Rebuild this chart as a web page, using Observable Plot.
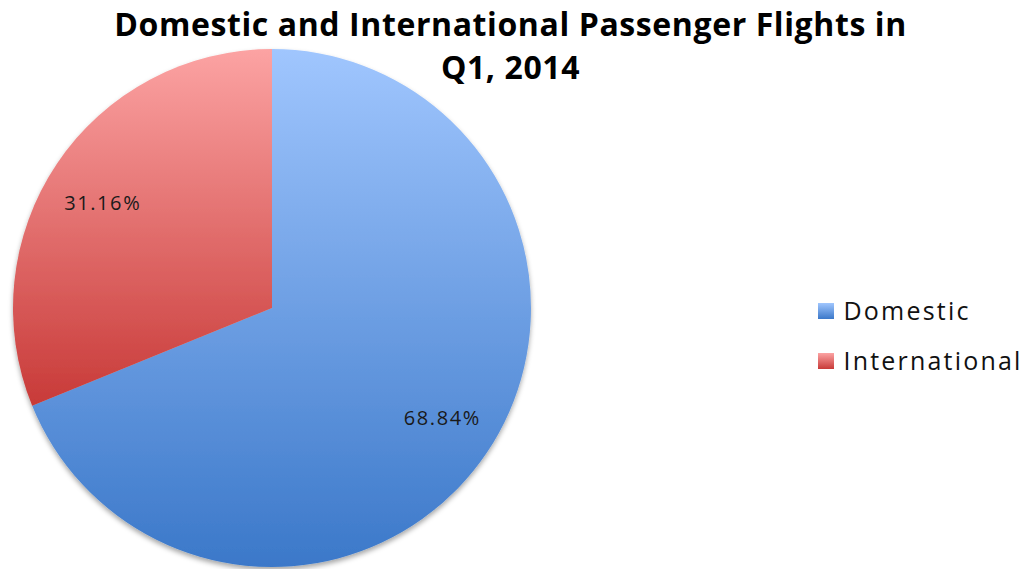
<!DOCTYPE html>
<html>
<head>
<meta charset="utf-8">
<script src="https://cdn.jsdelivr.net/npm/d3@7"></script>
<script src="https://cdn.jsdelivr.net/npm/@observablehq/plot@0.6"></script>
<style>
  html, body { margin: 0; padding: 0; background: #fff; }
  #chart { width: 1029px; height: 569px; }
</style>
</head>
<body>
<div id="chart"></div>
<script>
// ---- data ----
const categories = ["Domestic", "International"];
const shares = [68.84, 31.16];
const labels = ["68.84%", "31.16%"];
const topColors = ["#a0c6fe", "#fca3a3"];
const bottomColors = ["#3b78c9", "#c83a38"];
const titleLines = ["Domestic and International Passenger Flights in", "Q1, 2014"];

// ---- layout ----
const W = 1029, H = 569;
const cx = 272, cy = 308, R = 259;

const rows = categories.map((c, i) => ({category: c, share: shares[i], label: labels[i], i}));
const arcs = d3.pie().value(d => d.share).sort(null)(rows);
const labelPts = arcs.map(a => {
  const m = (a.startAngle + a.endAngle) / 2;
  return {label: a.data.label, x: cx + Math.sin(m) * R * 0.79, y: cy - Math.cos(m) * R * 0.79 + (a.data.i ? 9 : -4)};
});
const titleRows = titleLines.map((t, i) => ({t, x: 510, y: 25 + i * 43}));
const legendRows = categories.map((c, i) => ({c, i, x: 818, y: 311 + i * 50}));

function pieMark(index, scales, values, dimensions, context) {
  const svg = d3.create("svg:g");
  const defs = svg.append("defs");
  const f = defs.append("filter").attr("id", "shadow").attr("x", "-10%").attr("y", "-10%").attr("width", "120%").attr("height", "120%");
  f.append("feDropShadow").attr("dx", 0).attr("dy", 3).attr("stdDeviation", 2.5).attr("flood-color", "#000").attr("flood-opacity", 0.35);
  categories.forEach((c, i) => {
    const g = defs.append("linearGradient").attr("id", "grad" + i).attr("x1", 0).attr("y1", 0).attr("x2", 0).attr("y2", 1);
    g.append("stop").attr("offset", "0%").attr("stop-color", topColors[i]);
    g.append("stop").attr("offset", "100%").attr("stop-color", bottomColors[i]);
  });
  const px = scales.x(cx), py = scales.y(cy);
  const rr = scales.x(cx + R) - px;
  const arc = d3.arc().innerRadius(0).outerRadius(rr);
  const gp = svg.append("g").attr("transform", `translate(${px},${py})`).attr("filter", "url(#shadow)");
  gp.selectAll("path").data(arcs).join("path")
    .attr("d", arc)
    .attr("fill", d => `url(#grad${d.data.i})`);
  return svg.node();
}

function legendSwatches(index, scales) {
  const g = d3.create("svg:g");
  legendRows.forEach(d => {
    g.append("rect")
      .attr("x", scales.x(d.x)).attr("y", scales.y(d.y) - 8)
      .attr("width", 16).attr("height", 16)
      .attr("fill", `url(#grad${d.i})`);
  });
  return g.node();
}

const plot = Plot.plot({
  width: W, height: H,
  margin: 0,
  x: {domain: [0, W], range: [0, W], axis: null},
  y: {domain: [0, H], range: [0, H], axis: null},
  style: {fontFamily: "'Open Sans', sans-serif", background: "#fff"},
  marks: [
    pieMark,
    Plot.text(labelPts, {x: "x", y: "y", text: "label", fontSize: 20, fill: "#1a1a1a"}),
    legendSwatches,
    Plot.text(legendRows, {x: d => d.x + 25, y: "y", text: "c", textAnchor: "start", fontSize: 25, fill: "#111"}),
    Plot.text(titleRows, {x: "x", y: "y", text: "t", fontSize: 32, fontWeight: "bold", fill: "#000"})
  ]
});
d3.select(plot).selectAll("text").each(function() {
  const t = this.textContent;
  let ls = null;
  if (labels.includes(t)) ls = "1.6px";
  else if (categories.includes(t)) ls = "2.2px";
  else if (titleLines.includes(t)) ls = "0.6px";
  if (ls) this.style.letterSpacing = ls;
});
document.getElementById("chart").appendChild(plot);
</script>
</body>
</html>
